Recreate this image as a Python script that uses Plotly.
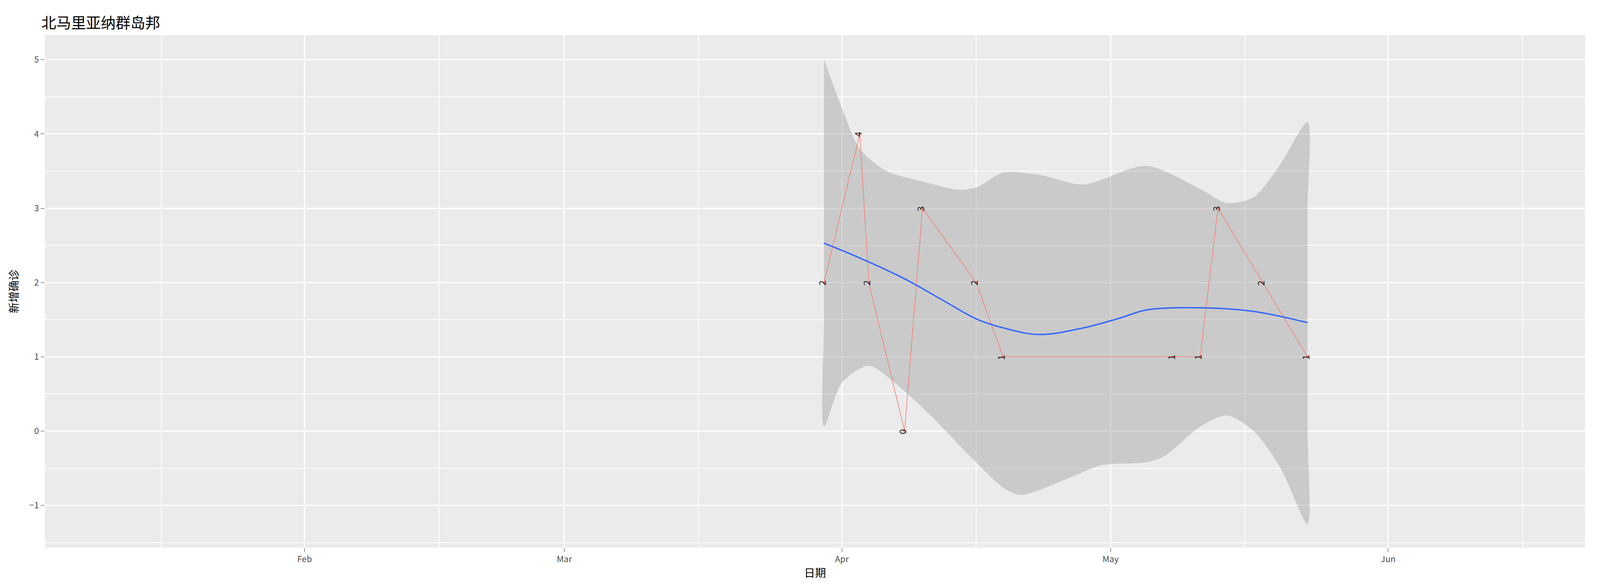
import plotly.graph_objects as go

# daily new cases
dates = ["2020-03-30", "2020-04-03", "2020-04-04", "2020-04-08", "2020-04-10", "2020-04-16",
         "2020-04-19", "2020-05-08", "2020-05-11", "2020-05-13", "2020-05-18", "2020-05-23"]
cases = [2, 4, 2, 0, 3, 2, 1, 1, 1, 3, 2, 1]

# smoothed trend
smooth_dates = ["2020-03-30", "2020-04-03", "2020-04-08", "2020-04-12", "2020-04-16", "2020-04-19",
                "2020-04-23", "2020-04-28", "2020-05-02", "2020-05-05", "2020-05-11", "2020-05-17", "2020-05-23"]
smooth_y = [2.53, 2.33, 2.05, 1.78, 1.51, 1.39, 1.30, 1.39, 1.52, 1.63, 1.66, 1.61, 1.46]

upper_dates = ["2020-03-30", "2020-04-01", "2020-04-03", "2020-04-06", "2020-04-10", "2020-04-14",
               "2020-04-16", "2020-04-19", "2020-04-23", "2020-04-28", "2020-05-05", "2020-05-11",
               "2020-05-14", "2020-05-17", "2020-05-20", "2020-05-23"]
upper_y = [5.0, 4.35, 3.8, 3.5, 3.36, 3.25, 3.28, 3.48, 3.45, 3.32, 3.57, 3.26, 3.07, 3.15, 3.6, 4.16]

lower_dates = ["2020-03-30", "2020-04-01", "2020-04-04", "2020-04-07", "2020-04-11", "2020-04-15",
               "2020-04-19", "2020-04-21", "2020-04-26", "2020-04-30", "2020-05-05", "2020-05-07",
               "2020-05-11", "2020-05-14", "2020-05-17", "2020-05-20", "2020-05-23"]
lower_y = [0.06, 0.65, 0.88, 0.64, 0.2, -0.3, -0.76, -0.86, -0.65, -0.46, -0.42, -0.34,
           0.06, 0.21, 0.0, -0.5, -1.25]

fig = go.Figure()

# confidence band; extra points on the two straight ends keep the spline from bulging
band_x = (upper_dates + [upper_dates[-1]] * 3 + lower_dates[::-1] + [lower_dates[0]] * 3)
band_y = (upper_y + [3.0, 1.5, 0.0] + lower_y[::-1] + [1.5, 3.0, 4.5])
fig.add_trace(go.Scatter(x=band_x, y=band_y,
                         fill="toself", fillcolor="rgba(153,153,153,0.4)", mode="lines",
                         line=dict(width=0, shape="spline", smoothing=0.8), hoverinfo="skip"))
fig.add_trace(go.Scatter(x=dates, y=cases, mode="lines+markers",
                         line=dict(color="#F8766D", width=1.5),
                         marker=dict(color="#F8766D", size=7)))
fig.add_trace(go.Scatter(x=smooth_dates, y=smooth_y, mode="lines",
                         line=dict(color="#3366FF", width=3.5, shape="spline")))

for d, c in zip(dates, cases):
    fig.add_annotation(x=d, y=c, text=str(c), showarrow=False, textangle=-90,
                       xanchor="center", yanchor="bottom", xshift=-6, yshift=-10,
                       font=dict(size=24, color="#222222"))

fig.update_layout(
    autosize=True, showlegend=False,
    plot_bgcolor="#EBEBEB", paper_bgcolor="white",
    font=dict(family="Noto Sans CJK SC", size=22, color="#4D4D4D"),
    title=dict(text="北马里亚纳群岛邦", x=0.024, xanchor="left", y=0.975,
               font=dict(size=38, color="black")),
    margin=dict(l=107, r=30, t=82, b=106),
)
fig.update_xaxes(range=["2020-01-03", "2020-06-23"], dtick="M1", tick0="2020-02-01",
                 tickformat="%b", gridcolor="white", gridwidth=3, ticks="outside",
                 ticklen=10, tickcolor="#333333", zeroline=False,
                 minor=dict(dtick="M1", tick0="2020-01-16", showgrid=True, gridcolor="white", gridwidth=1.5),
                 title=dict(text="日期", font=dict(size=28, color="black"), standoff=12))
fig.update_yaxes(range=[-1.57, 5.33], dtick=1, gridcolor="white", gridwidth=3, ticks="outside",
                 ticklen=10, tickcolor="#333333", zeroline=False,
                 minor=dict(dtick=0.5, showgrid=True, gridcolor="white", gridwidth=1.5),
                 title=dict(text="新增确诊", font=dict(size=28, color="black"), standoff=20))

fig.write_html("out.html", default_width="100%", default_height="100vh")
